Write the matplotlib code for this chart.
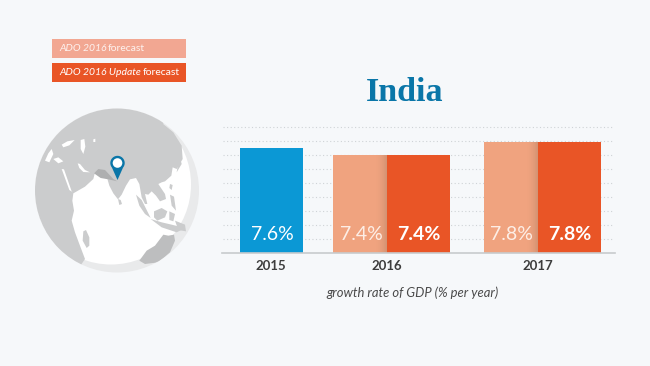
import numpy as np
import matplotlib
matplotlib.use('Agg')
import matplotlib.pyplot as plt
from matplotlib.patches import Circle, Polygon, Rectangle

BG = '#f6f8fa'
BLUE = '#0b98d5'
LIGHT = '#f0a37f'
DARK = '#e95526'
TITLE_BLUE = '#0a76a8'
LAND = '#cbcccd'

years = ['2015', '2016', '2017']
value_2015 = [7.6]
ado_forecast = [7.4, 7.8]
update_forecast = [7.4, 7.8]
value_labels_2015 = ['7.6%']
forecast_labels = ['7.4%', '7.8%']
update_labels = ['7.4%', '7.8%']

# bar layout, in picture pixels
x_2015 = [271.5]
x_light = [360.3, 510.5]
x_dark = [418.7, 569.3]
w_2015 = 62.5
w_light = 54
w_dark = 62.5
year_x = [271, 387, 538]

W, H = 650, 366
fig = plt.figure(figsize=(W / 100, H / 100), dpi=100, facecolor=BG)

# overlay in pixel coordinates for the legend and the globe
bg = fig.add_axes([0, 0, 1, 1])
bg.set_xlim(0, W)
bg.set_ylim(H, 0)
bg.axis('off')

# legend boxes
bg.add_patch(Rectangle((52, 39), 133.5, 19, fc='#f2a792', ec='none'))
bg.add_patch(Rectangle((52, 63), 133.5, 19, fc=DARK, ec='none'))
bg.text(59, 48.5, 'ADO 2016', style='italic', color='white', alpha=.85, fontsize=7.5,
        family='Lato', va='center')
bg.text(108, 48.5, 'forecast', color='white', alpha=.85, fontsize=7.5, family='Lato', va='center')
bg.text(59, 72.5, 'ADO 2016 Update', style='italic', color='white', fontsize=7.5,
        family='Lato', va='center')
bg.text(143, 72.5, 'forecast', color='white', fontsize=7.5, family='Lato', va='center')


def z(points):
    return [(30 + a / 3, 104 + b / 3) for a, b in points]


# globe
cx, cy, r = 117, 190.5, 82
clip = Circle((cx, cy), r, transform=bg.transData)
bg.add_patch(Circle((cx, cy), r, fc='#e9eaeb', ec='none', zorder=1))
ocean = Circle((cx - 6, cy - 6), r - 2, fc='#ffffff', ec='none', zorder=1.2)
bg.add_patch(ocean)
ocean.set_clip_path(clip)

land = [(-20, -20), (400, -20), (400, 60), (430, 85), (455, 125), (458, 165), (440, 195),
        (428, 190), (424, 215), (405, 232), (395, 235), (385, 240), (405, 270), (408, 285),
        (390, 292), (378, 275), (365, 262), (355, 272), (345, 270), (352, 300), (345, 300),
        (335, 280), (328, 240), (318, 222), (300, 226), (288, 245), (275, 272), (264, 286),
        (250, 268), (238, 245), (232, 224), (212, 218), (195, 205), (190, 225), (165, 248),
        (130, 268), (127, 290), (132, 320), (125, 350), (135, 385), (148, 420), (165, 465),
        (100, 560), (-20, 560)]
islands = {
    'srilanka': [(264, 285), (272, 288), (276, 300), (268, 303)],
    'madagascar': [(160, 382), (168, 378), (178, 400), (178, 425), (170, 432), (158, 410)],
    'sumatra': [(318, 272), (335, 288), (352, 322), (362, 342), (345, 330), (328, 305)],
    'borneo': [(372, 322), (395, 312), (412, 322), (405, 340), (382, 350), (372, 340)],
    'java': [(362, 345), (395, 355), (425, 362), (465, 372), (440, 385), (395, 370)],
    'celebes': [(418, 322), (435, 330), (430, 352), (418, 348)],
    'guinea': [(435, 350), (465, 362), (468, 382), (445, 378)],
    'philippines': [(420, 272), (432, 278), (438, 320), (425, 305)],
    'taiwan': [(420, 240), (428, 243), (425, 258), (418, 252)],
    'japan': [(432, 135), (445, 140), (455, 180), (440, 205), (445, 172)],
}
australia = [(400, 392), (415, 395), (432, 392), (435, 410), (420, 445), (385, 475), (345, 480),
             (328, 470), (350, 440), (375, 425)]
waters = {
    'med_west': [(45, 170), (55, 148), (65, 135), (70, 150), (58, 175)],
    'med_mid': [(70, 165), (85, 160), (100, 172), (85, 178)],
    'adriatic': [(95, 122), (112, 112), (134, 108), (118, 124), (100, 130)],
    'caspian': [(152, 108), (163, 105), (166, 128), (160, 150), (152, 135)],
    'aral': [(190, 106), (196, 104), (196, 114), (190, 114)],
    'red_sea': [(95, 195), (102, 196), (125, 262), (130, 266), (118, 258)],
    'gulf': [(143, 178), (150, 180), (165, 198), (180, 205), (160, 204), (148, 192)],
}

p = Polygon(z(land), closed=True, fc=LAND, ec='none', zorder=2)
bg.add_patch(p)
p.set_clip_path(clip)
for poly in waters.values():
    p = Polygon(z(poly), closed=True, fc='white', ec='none', zorder=2.1)
    bg.add_patch(p)
    p.set_clip_path(clip)
for poly in islands.values():
    p = Polygon(z(poly), closed=True, fc=LAND, ec='none', zorder=2.2)
    bg.add_patch(p)
    p.set_clip_path(clip)
p = Polygon(z(australia), closed=True, fc='#bdbebf', ec='none', zorder=2.2)
bg.add_patch(p)
p.set_clip_path(clip)

# India highlight
bg.add_patch(Polygon(z([(192, 208), (205, 195), (225, 198), (250, 225), (262, 232), (235, 226), (212, 222)]),
                     closed=True, fc='#aeafb0', ec='none', zorder=2.3))

# map pin
px_c, py_c = 117.5, 163
theta = np.linspace(np.radians(-40), np.radians(220), 40)
pin = list(zip(px_c + 7.2 * np.cos(theta), py_c - 7.2 * np.sin(theta))) + [(px_c, 180)]
bg.add_patch(Polygon(pin, closed=True, fc=TITLE_BLUE, ec='none', zorder=3))
bg.add_patch(Circle((px_c, py_c), 4.8, fc='white', ec='none', zorder=4))

# bars
ax = fig.add_axes([0, 0, 1, 1], facecolor='none')
ax.set_xlim(0, W)
px_per_val = 33
base_val = 7.4 - 98 / px_per_val
ax.set_ylim(base_val - (H - 253) / px_per_val, base_val + 253 / px_per_val)
ax.axis('off')

for g in range(1, 10):
    ax.plot([223, 614], [base_val + g * 14 / px_per_val] * 2, color='#cfd3d6',
            lw=0.8, ls=(0, (1, 2.2)), zorder=1)
ax.plot([222, 615], [base_val, base_val], color='#c8cbcd', lw=1.2, zorder=4)

ax.bar(x_2015, np.array(value_2015) - base_val, w_2015, bottom=base_val, color=BLUE, zorder=3)
ax.bar(x_light, np.array(ado_forecast) - base_val, w_light, bottom=base_val, color=LIGHT, zorder=3)
ax.bar(x_dark, np.array(update_forecast) - base_val, w_dark, bottom=base_val, color=DARK, zorder=3)

# soft shadow the dark bars throw on the light ones
for x, v in zip(x_light, ado_forecast):
    for i in range(12):
        ax.bar(x + w_light / 2 - i - 0.5, v - base_val, 1, bottom=base_val, color='#8a6a55',
               alpha=0.28 * (1 - i / 12) ** 2, zorder=3.1)

lab_y = base_val + 18.5 / px_per_val
for x, t in zip(x_2015, value_labels_2015):
    ax.text(x + 0.5, lab_y, t, color='white', fontsize=14, family='Lato', ha='center', va='center', zorder=5)
for x, t in zip(x_light, forecast_labels):
    ax.text(x + 1, lab_y, t, color='#fdeee6', fontsize=14, family='Lato', ha='center', va='center', zorder=5)
for x, t in zip(x_dark, update_labels):
    ax.text(x, lab_y, t, color='white', fontsize=14, family='Lato', weight='bold', ha='center', va='center', zorder=5)

for x, t in zip(year_x, years):
    ax.text(x, base_val - 13 / px_per_val, t, color='#3d3d3d', fontsize=9.5, family='Lato',
            weight='bold', ha='center', va='center')
ax.text(412, base_val - 40 / px_per_val, 'growth rate of GDP (% per year)', color='#4a4a4a',
        fontsize=9.4, style='italic', family='Lato', ha='center', va='center')
ax.text(405, base_val + 161 / px_per_val, 'India', color=TITLE_BLUE, fontsize=24.5,
        family='Liberation Serif', weight='bold', ha='center', va='center')

fig.savefig('out.png', dpi=100, facecolor=BG)
